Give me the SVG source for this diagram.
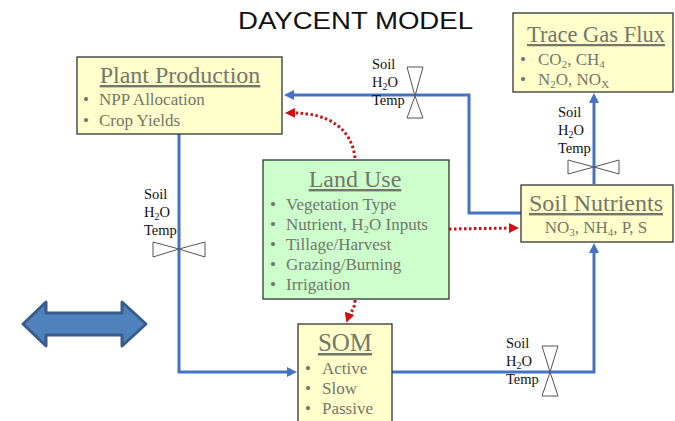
<svg xmlns="http://www.w3.org/2000/svg" width="675" height="421" viewBox="0 0 675 421">
<defs>
<style>
.box{fill:#ffffcc;stroke:#333;stroke-width:1.3}
.green{fill:#ccffcc;stroke:#333;stroke-width:1.3}
.ttl{font-family:"Liberation Serif",serif;font-size:24px;fill:#75766a;text-decoration:underline}
.bl{font-family:"Liberation Serif",serif;font-size:17px;fill:#75766a}
.vl{font-family:"Liberation Serif",serif;font-size:14.5px;fill:#111}
.blue{fill:none;stroke:#4472c4;stroke-width:3}
.red{fill:none;stroke:#d01010;stroke-width:3;stroke-dasharray:2.5 2.5}
.valve{fill:#fff;stroke:#555;stroke-width:1}
</style>
<marker id="ab" markerWidth="10" markerHeight="10" refX="5" refY="5" orient="auto" markerUnits="userSpaceOnUse"><path d="M0,0 L10,5 L0,10 Z" fill="#4472c4"/></marker>
<marker id="ar" markerWidth="10" markerHeight="10" refX="5" refY="5" orient="auto" markerUnits="userSpaceOnUse"><path d="M0,0 L10,5 L0,10 Z" fill="#d01010"/></marker>
</defs>
<rect width="675" height="421" fill="#fff"/>
<text x="238" y="29" textLength="235" lengthAdjust="spacingAndGlyphs" font-family="Liberation Sans,Arial,sans-serif" font-size="24" fill="#111">DAYCENT MODEL</text>

<g id="connectors">
<path class="blue" d="M594,184 L594,98" marker-end="url(#ab)"/>
<path class="blue" d="M521,213 L469,213 L469,95 L289,95" marker-end="url(#ab)"/>
<path class="blue" d="M179,134 L179,372 L292,372" marker-end="url(#ab)"/>
<path class="blue" d="M392,372 L594,372 L594,248" marker-end="url(#ab)"/>
<path class="red" d="M355,158 C352,130 330,112 290,113" marker-end="url(#ar)"/>
<path class="red" d="M449,229 L514,228" marker-end="url(#ar)"/>
<path class="red" d="M355,300 C355,310 350,312 348,318" marker-end="url(#ar)"/>
</g>

<g id="valve-top">
<path class="valve" d="M407,67 L423,67 L415,96 Z M415,96 L423,118 L407,118 Z"/>
<text class="vl" x="372" y="69">Soil</text>
<text class="vl" x="372" y="87">H<tspan font-size="10" dy="3">2</tspan><tspan dy="-3">O</tspan></text>
<text class="vl" x="372" y="105">Temp</text>
</g>
<g id="valve-right">
<path class="valve" d="M568,160 L568,174 L594,167 Z M594,167 L619,160 L619,174 Z"/>
<text class="vl" x="558" y="117">Soil</text>
<text class="vl" x="558" y="135">H<tspan font-size="10" dy="3">2</tspan><tspan dy="-3">O</tspan></text>
<text class="vl" x="558" y="153">Temp</text>
</g>
<g id="valve-left">
<path class="valve" d="M153,242 L153,257 L179,249 Z M179,249 L205,242 L205,257 Z"/>
<text class="vl" x="144" y="199">Soil</text>
<text class="vl" x="144" y="217">H<tspan font-size="10" dy="3">2</tspan><tspan dy="-3">O</tspan></text>
<text class="vl" x="144" y="235">Temp</text>
</g>
<g id="valve-bottom">
<path class="valve" d="M542,346 L558,346 L550,372 Z M550,372 L558,396 L542,396 Z"/>
<text class="vl" x="506" y="348">Soil</text>
<text class="vl" x="506" y="366">H<tspan font-size="10" dy="3">2</tspan><tspan dy="-3">O</tspan></text>
<text class="vl" x="506" y="384">Temp</text>
</g>

<g id="plant-production">
<rect class="box" x="77" y="57" width="205" height="77"/>
<text class="ttl" x="180" y="83" text-anchor="middle">Plant Production</text>
<text class="bl" x="83" y="105">•</text><text class="bl" x="99" y="105">NPP Allocation</text>
<text class="bl" x="83" y="126">•</text><text class="bl" x="99" y="126">Crop Yields</text>
</g>

<g id="trace-gas-flux">
<rect class="box" x="513" y="13" width="160" height="79"/>
<text class="ttl" x="596" y="42" text-anchor="middle" style="font-size:22.5px">Trace Gas Flux</text>
<text class="bl" x="520" y="65">•</text><text class="bl" x="538" y="65">CO<tspan font-size="11" dy="3">2</tspan><tspan dy="-3">, CH</tspan><tspan font-size="11" dy="3">4</tspan></text>
<text class="bl" x="520" y="85">•</text><text class="bl" x="538" y="85">N<tspan font-size="11" dy="3">2</tspan><tspan dy="-3">O, NO</tspan><tspan font-size="11" dy="3">X</tspan></text>
</g>

<g id="land-use">
<rect class="green" x="263" y="160" width="186" height="139"/>
<text class="ttl" x="355" y="187" text-anchor="middle">Land Use</text>
<text class="bl" x="270" y="210">•</text><text class="bl" x="286" y="210">Vegetation Type</text>
<text class="bl" x="270" y="230">•</text><text class="bl" x="286" y="230">Nutrient, H<tspan font-size="11" dy="3">2</tspan><tspan dy="-3">O Inputs</tspan></text>
<text class="bl" x="270" y="250">•</text><text class="bl" x="286" y="250">Tillage/Harvest</text>
<text class="bl" x="270" y="270">•</text><text class="bl" x="286" y="270">Grazing/Burning</text>
<text class="bl" x="270" y="290">•</text><text class="bl" x="286" y="290">Irrigation</text>
</g>

<g id="soil-nutrients">
<rect class="box" x="521" y="185" width="152" height="57"/>
<text class="ttl" x="596" y="211" text-anchor="middle">Soil Nutrients</text>
<text class="bl" x="596" y="233" text-anchor="middle">NO<tspan font-size="11" dy="3">3</tspan><tspan dy="-3">, NH</tspan><tspan font-size="11" dy="3">4</tspan><tspan dy="-3">, P, S</tspan></text>
</g>

<g id="som">
<rect class="box" x="298" y="324" width="94" height="110"/>
<text class="ttl" x="345" y="351" text-anchor="middle" style="font-size:25px">SOM</text>
<text class="bl" x="305" y="374">•</text><text class="bl" x="322" y="374">Active</text>
<text class="bl" x="305" y="394">•</text><text class="bl" x="322" y="394">Slow</text>
<text class="bl" x="305" y="414">•</text><text class="bl" x="322" y="414">Passive</text>
</g>

<g id="double-arrow">
<path d="M23,324 L46,302 L46,313 L122,313 L122,302 L146,324 L122,346 L122,335 L46,335 L46,346 Z" fill="#4f81bd" stroke="#385d8a" stroke-width="3" stroke-linejoin="round"/>
</g>
</svg>
